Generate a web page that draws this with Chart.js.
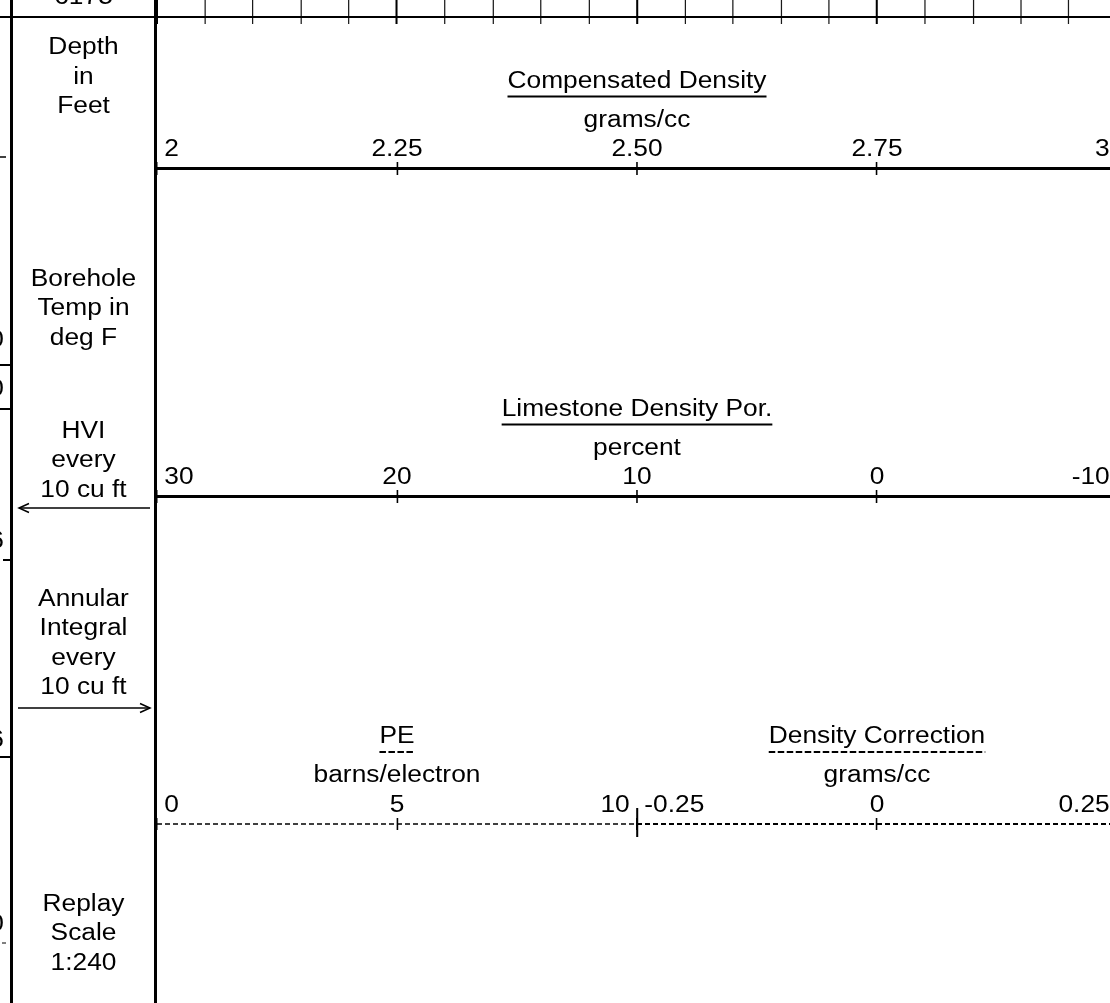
<!DOCTYPE html>
<html>
<head>
<meta charset="utf-8">
<script src="https://cdn.jsdelivr.net/npm/chart.js@4.4.1/dist/chart.umd.min.js"></script>
<style>
  html, body { margin: 0; padding: 0; background: #fff; overflow: hidden; }
  #wrap { position: relative; width: 1110px; height: 1003px; overflow: hidden; background: #fff; }
  #log { position: absolute; left: 0; top: 0; }
  #frame { position: absolute; left: 0; top: 0; pointer-events: none; }
  .lbl { position: absolute; left: 13px; width: 141px; text-align: center; color: #000;
         font: 23.3px/29.5px "Liberation Sans", Arial, sans-serif; white-space: nowrap;
         transform: scaleX(1.13); transform-origin: 50% 0; }
  .cut { position: absolute; left: -9px; color: #000; font: 23.3px/29.5px "Liberation Sans", Arial, sans-serif;
         transform: scaleX(1.13); transform-origin: 100% 0; }
</style>
</head>
<body>
<div id="wrap">
  <canvas id="log" width="1120" height="1003"></canvas>

  <svg id="frame" width="1110" height="1003">
    <g stroke="#000" fill="none">
      <line x1="11.5" y1="0" x2="11.5" y2="1003" stroke-width="3"/>
      <line x1="155.5" y1="0" x2="155.5" y2="1003" stroke-width="3"/>
      <line x1="0" y1="17" x2="1110" y2="17" stroke-width="2"/>
      <line x1="0" y1="157" x2="6" y2="157" stroke-width="1.5"/>
      <line x1="0" y1="365" x2="10" y2="365" stroke-width="2"/>
      <line x1="0" y1="409" x2="10" y2="409" stroke-width="2"/>
      <line x1="3" y1="560" x2="10" y2="560" stroke-width="2"/>
      <line x1="0" y1="757" x2="10" y2="757" stroke-width="2"/>
      <line x1="2" y1="943" x2="6" y2="943" stroke-width="1"/>
      <!-- HVI arrow -->
      <line x1="19" y1="508" x2="150" y2="508" stroke-width="1.5"/>
      <polyline points="29,503.5 19,508 29,512.5" stroke-width="1.5"/>
      <!-- annular integral arrow -->
      <line x1="18" y1="708" x2="150" y2="708" stroke-width="1.5"/>
      <polyline points="140,703.5 150,708 140,712.5" stroke-width="1.5"/>
    </g>
  </svg>

  <div class="lbl" style="top:-17.8px">6175</div>
  <div class="lbl" style="top:32.2px">Depth<br>in<br>Feet</div>
  <div class="lbl" style="top:263.7px">Borehole<br>Temp in<br>deg F</div>
  <div class="lbl" style="top:415.5px">HVI<br>every<br>10 cu ft</div>
  <div class="lbl" style="top:583.9px">Annular<br>Integral<br>every<br>10 cu ft</div>
  <div class="lbl" style="top:888.9px">Replay<br>Scale<br>1:240</div>

  <div class="cut" style="top:325.2px">0</div>
  <div class="cut" style="top:373.9px">0</div>
  <div class="cut" style="top:525.5px">6</div>
  <div class="cut" style="top:724.5px">6</div>
  <div class="cut" style="top:908.9px">0</div>
</div>

<script>
// header scales of the density log
const densityTicks = [2, 2.25, 2.5, 2.75, 3];
const densityLabels = ['2', '2.25', '2.50', '2.75', '3'];
const porosityTicks = [30, 20, 10, 0, -10];
const porosityLabels = ['30', '20', '10', '0', '-10'];
const peTicks = [0, 5, 10];
const peLabels = ['0', '5', '10'];
const corrTicks = [-0.25, 0, 0.25];
const corrLabels = ['-0.25', '0', '0.25'];
const gridStep = 0.05;

const trackTitles = ['Compensated Density', 'Limestone Density Por.', 'PE', 'Density Correction'];
const trackUnits = ['grams/cc', 'percent', 'barns/electron', 'grams/cc'];

const FONT = 'Liberation Sans';
const FONT_SIZE = 23.3;
// the print is wider than it is tall: draw in a narrow frame and stretch it
const STRETCH = 1.13;
Chart.defaults.font.family = FONT;
Chart.defaults.color = '#000';

// rows (in canvas pixels) where each header scale line sits
const rows = { density: 168.5, porosity: 496.5, pe: 824 };

const lo = v => Math.min.apply(null, v);
const hi = v => Math.max.apply(null, v);

// edge labels get a space so they sit just inside the track
function edgeLabels(values, labels, reverse) {
    return function (value, index, ticks) {
        let txt = labels[values.indexOf(value)];
        const first = index === 0;
        const last = index === ticks.length - 1;
        if (reverse ? last : first) txt = ' ' + txt;
        if (reverse ? first : last) txt = txt + ' ';
        return txt;
    };
}

function labelAxis(values, labels, min, max, reverse, row, solid) {
    return {
        type: 'linear', axis: 'x', position: { y: row },
        min: min, max: max, reverse: reverse,
        afterBuildTicks: s => { s.ticks = values.slice().sort((a, b) => a - b).map(v => ({ value: v })); },
        grid: { display: false, drawOnChartArea: false, drawTicks: false },
        border: solid ? { display: true, width: 3, color: '#000' } : { display: false },
        ticks: {
            align: 'inner', autoSkip: false, maxRotation: 0, minRotation: 0,
            padding: -32.5, color: '#000', font: { family: FONT, size: FONT_SIZE },
            callback: edgeLabels(values, labels, reverse)
        }
    };
}

function markAxis(values, min, max, reverse, row, len, width) {
    return {
        type: 'linear', axis: 'x', position: { y: row },
        min: min, max: max, reverse: reverse,
        afterBuildTicks: s => { s.ticks = values.map(v => ({ value: v })); },
        grid: { display: true, drawOnChartArea: false, drawTicks: true, tickLength: len,
                lineWidth: width, tickWidth: width, tickColor: '#000' },
        border: { display: false },
        ticks: { display: false }
    };
}

// PE fills the left half, density correction the right half
const peMax = hi(peTicks) + (hi(peTicks) - lo(peTicks));
const corrMin = lo(corrTicks) - (hi(corrTicks) - lo(corrTicks));

const headers = [
    { scale: 'density', values: densityTicks, row: rows.density, dashed: false },
    { scale: 'porosity', values: porosityTicks, row: rows.porosity, dashed: false },
    { scale: 'pe', values: peTicks, row: rows.pe, dashed: true },
    { scale: 'corr', values: corrTicks, row: rows.pe, dashed: true }
];

const dashedLines = [
    { scale: 'pe', values: peTicks, width: 1.5 },
    { scale: 'corr', values: corrTicks, width: 2 }
];

const stretch = {
    id: 'stretch',
    beforeDraw(chart) {
        chart.ctx.save();
        chart.ctx.setTransform(STRETCH, 0, 0, 1, 0, 0);
    },
    afterDraw(chart) {
        chart.ctx.restore();
    }
};

const trackHeaders = {
    id: 'trackHeaders',
    afterDraw(chart) {
        const { ctx, scales } = chart;
        ctx.save();
        ctx.fillStyle = '#000';
        ctx.strokeStyle = '#000';
        ctx.font = FONT_SIZE + 'px "' + FONT + '"';
        ctx.textAlign = 'center';
        ctx.textBaseline = 'alphabetic';

        headers.forEach((h, i) => {
            const s = scales[h.scale];
            const cx = s.getPixelForValue((h.values[0] + h.values[h.values.length - 1]) / 2);
            const base = scales.y.getPixelForValue(h.row);
            ctx.fillText(trackTitles[i], cx, base - 81);
            const w = ctx.measureText(trackTitles[i]).width;
            ctx.lineWidth = 2;
            ctx.setLineDash(h.dashed ? [6.5 / STRETCH, 2.5 / STRETCH] : []);
            ctx.beginPath();
            ctx.moveTo(cx - w / 2, base - 72);
            ctx.lineTo(cx + w / 2, base - 72);
            ctx.stroke();
            ctx.fillText(trackUnits[i], cx, base - 42);
        });

        // dashed scale lines of the PE / correction track
        const y = scales.y.getPixelForValue(rows.pe);
        dashedLines.forEach(d => {
            const s = scales[d.scale];
            ctx.lineWidth = d.width;
            ctx.setLineDash([5 / STRETCH, 3 / STRETCH]);
            ctx.beginPath();
            ctx.moveTo(s.getPixelForValue(lo(d.values)), y);
            ctx.lineTo(s.getPixelForValue(hi(d.values)), y);
            ctx.stroke();
        });
        ctx.restore();
    }
};

const config = {
    type: 'scatter',
    data: { datasets: [] },
    options: {
        responsive: false,
        maintainAspectRatio: false,
        animation: false,
        devicePixelRatio: 1,
        layout: { padding: { left: 157 / STRETCH, right: 1120 - 1117 / STRETCH, top: 0, bottom: 0 } },
        plugins: { legend: { display: false }, tooltip: { enabled: false } },
        scales: {
            y: { type: 'linear', display: false, min: 0, max: 1003, reverse: true },
            depthGrid: {
                type: 'linear', axis: 'x', position: { y: 0 },
                min: lo(densityTicks), max: hi(densityTicks),
                ticks: { display: false, stepSize: gridStep },
                border: { display: false },
                grid: {
                    drawOnChartArea: false, drawTicks: true, tickLength: 24,
                    lineWidth: c => (c.index % 5 === 0 ? 1.8 : 1.1),
                    tickWidth: c => (c.index % 5 === 0 ? 1.8 : 1.1),
                    tickColor: c => (c.index % 5 === 0 ? '#000' : '#1a1a1a')
                }
            },
            density: labelAxis(densityTicks, densityLabels, lo(densityTicks), hi(densityTicks), false, rows.density, true),
            densityMarks: markAxis(densityTicks, lo(densityTicks), hi(densityTicks), false, rows.density - 6.5, 13, 1.4),
            porosity: labelAxis(porosityTicks, porosityLabels, lo(porosityTicks), hi(porosityTicks), true, rows.porosity, true),
            porosityMarks: markAxis(porosityTicks, lo(porosityTicks), hi(porosityTicks), true, rows.porosity - 6.5, 13, 1.4),
            pe: labelAxis(peTicks, peLabels, lo(peTicks), peMax, false, rows.pe, false),
            peMarks: markAxis(peTicks, lo(peTicks), peMax, false, rows.pe - 6, 12, 1.4),
            corr: labelAxis(corrTicks, corrLabels, corrMin, hi(corrTicks), false, rows.pe, false),
            corrMarks: markAxis(corrTicks, corrMin, hi(corrTicks), false, rows.pe - 6, 12, 1.4),
            peDivider: markAxis([hi(peTicks)], lo(peTicks), peMax, false, rows.pe - 16, 29, 1.8)
        }
    },
    plugins: [trackHeaders, stretch]
};

new Chart(document.getElementById('log').getContext('2d'), config);
</script>
</body>
</html>
